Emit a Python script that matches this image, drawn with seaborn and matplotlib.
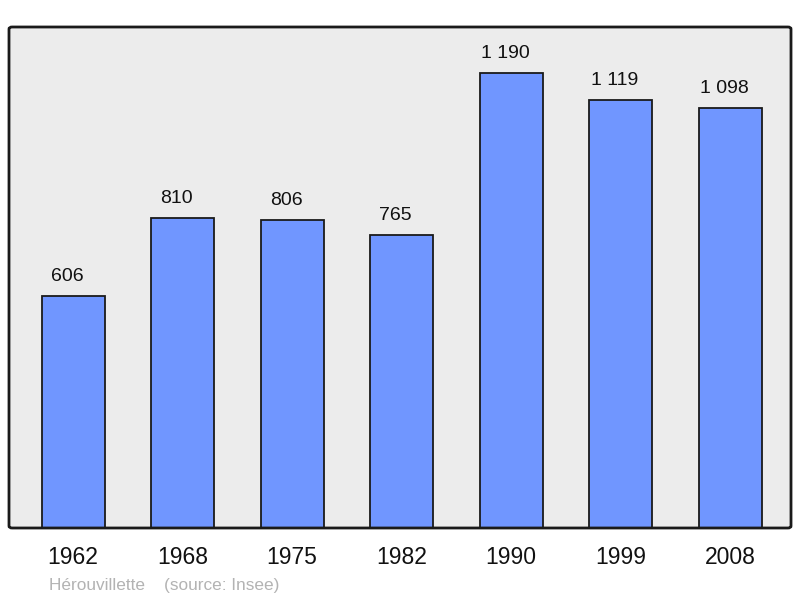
import matplotlib.pyplot as plt
import pandas as pd
import seaborn as sns
from matplotlib.patches import FancyBboxPatch

years = ["1962", "1968", "1975", "1982", "1990", "1999", "2008"]
population = [606, 810, 806, 765, 1190, 1119, 1098]
value_labels = ["606", "810", "806", "765", "1 190", "1 119", "1 098"]
footer = "Hérouvillette    (source: Insee)"

sns.set_style("white")
plt.rcParams["font.family"] = ["Liberation Sans", "DejaVu Sans"]

frame = pd.DataFrame({"year": years, "population": population})

figure = plt.figure(figsize=(8, 5.98), dpi=100)
axis = figure.add_axes([9 / 800, 1 - 528 / 598, 782 / 800, 501 / 598])
axis.set_facecolor("#ececec")

sns.barplot(
    data=frame,
    x="year",
    y="population",
    color="#7096ff",
    saturation=1,
    width=0.575,
    edgecolor="#1a1a1a",
    linewidth=1.3,
    ax=axis,
)

# value labels sit a little left of the bar centre in the original
for patch, text in zip(axis.patches, value_labels):
    axis.annotate(
        text,
        (patch.get_x() + patch.get_width() / 2, patch.get_height()),
        xytext=(-4.3, 8),
        textcoords="offset points",
        ha="center",
        va="bottom",
        fontsize=14,
        color="#111111",
    )

axis.set_xlim(-0.585, 6.555)
axis.set_ylim(0, 1310)
axis.set_xlabel("")
axis.set_ylabel("")
axis.set_yticks([])
axis.tick_params(axis="x", length=0, pad=13, labelsize=16.5, labelcolor="#111111")
for spine in axis.spines.values():
    spine.set_visible(False)
frame_box = FancyBboxPatch(
    (0, 0), 1, 1,
    boxstyle="round,pad=0,rounding_size=0.004",
    transform=axis.transAxes,
    fill=False,
    edgecolor="#1a1a1a",
    linewidth=2,
    clip_on=False,
    zorder=5,
)
axis.add_patch(frame_box)

figure.text(49 / 800, 1 - 590 / 598, footer, fontsize=12.4, color="#b3b3b3", va="baseline")

figure.savefig("out.png", dpi=100)
plt.close(figure)
